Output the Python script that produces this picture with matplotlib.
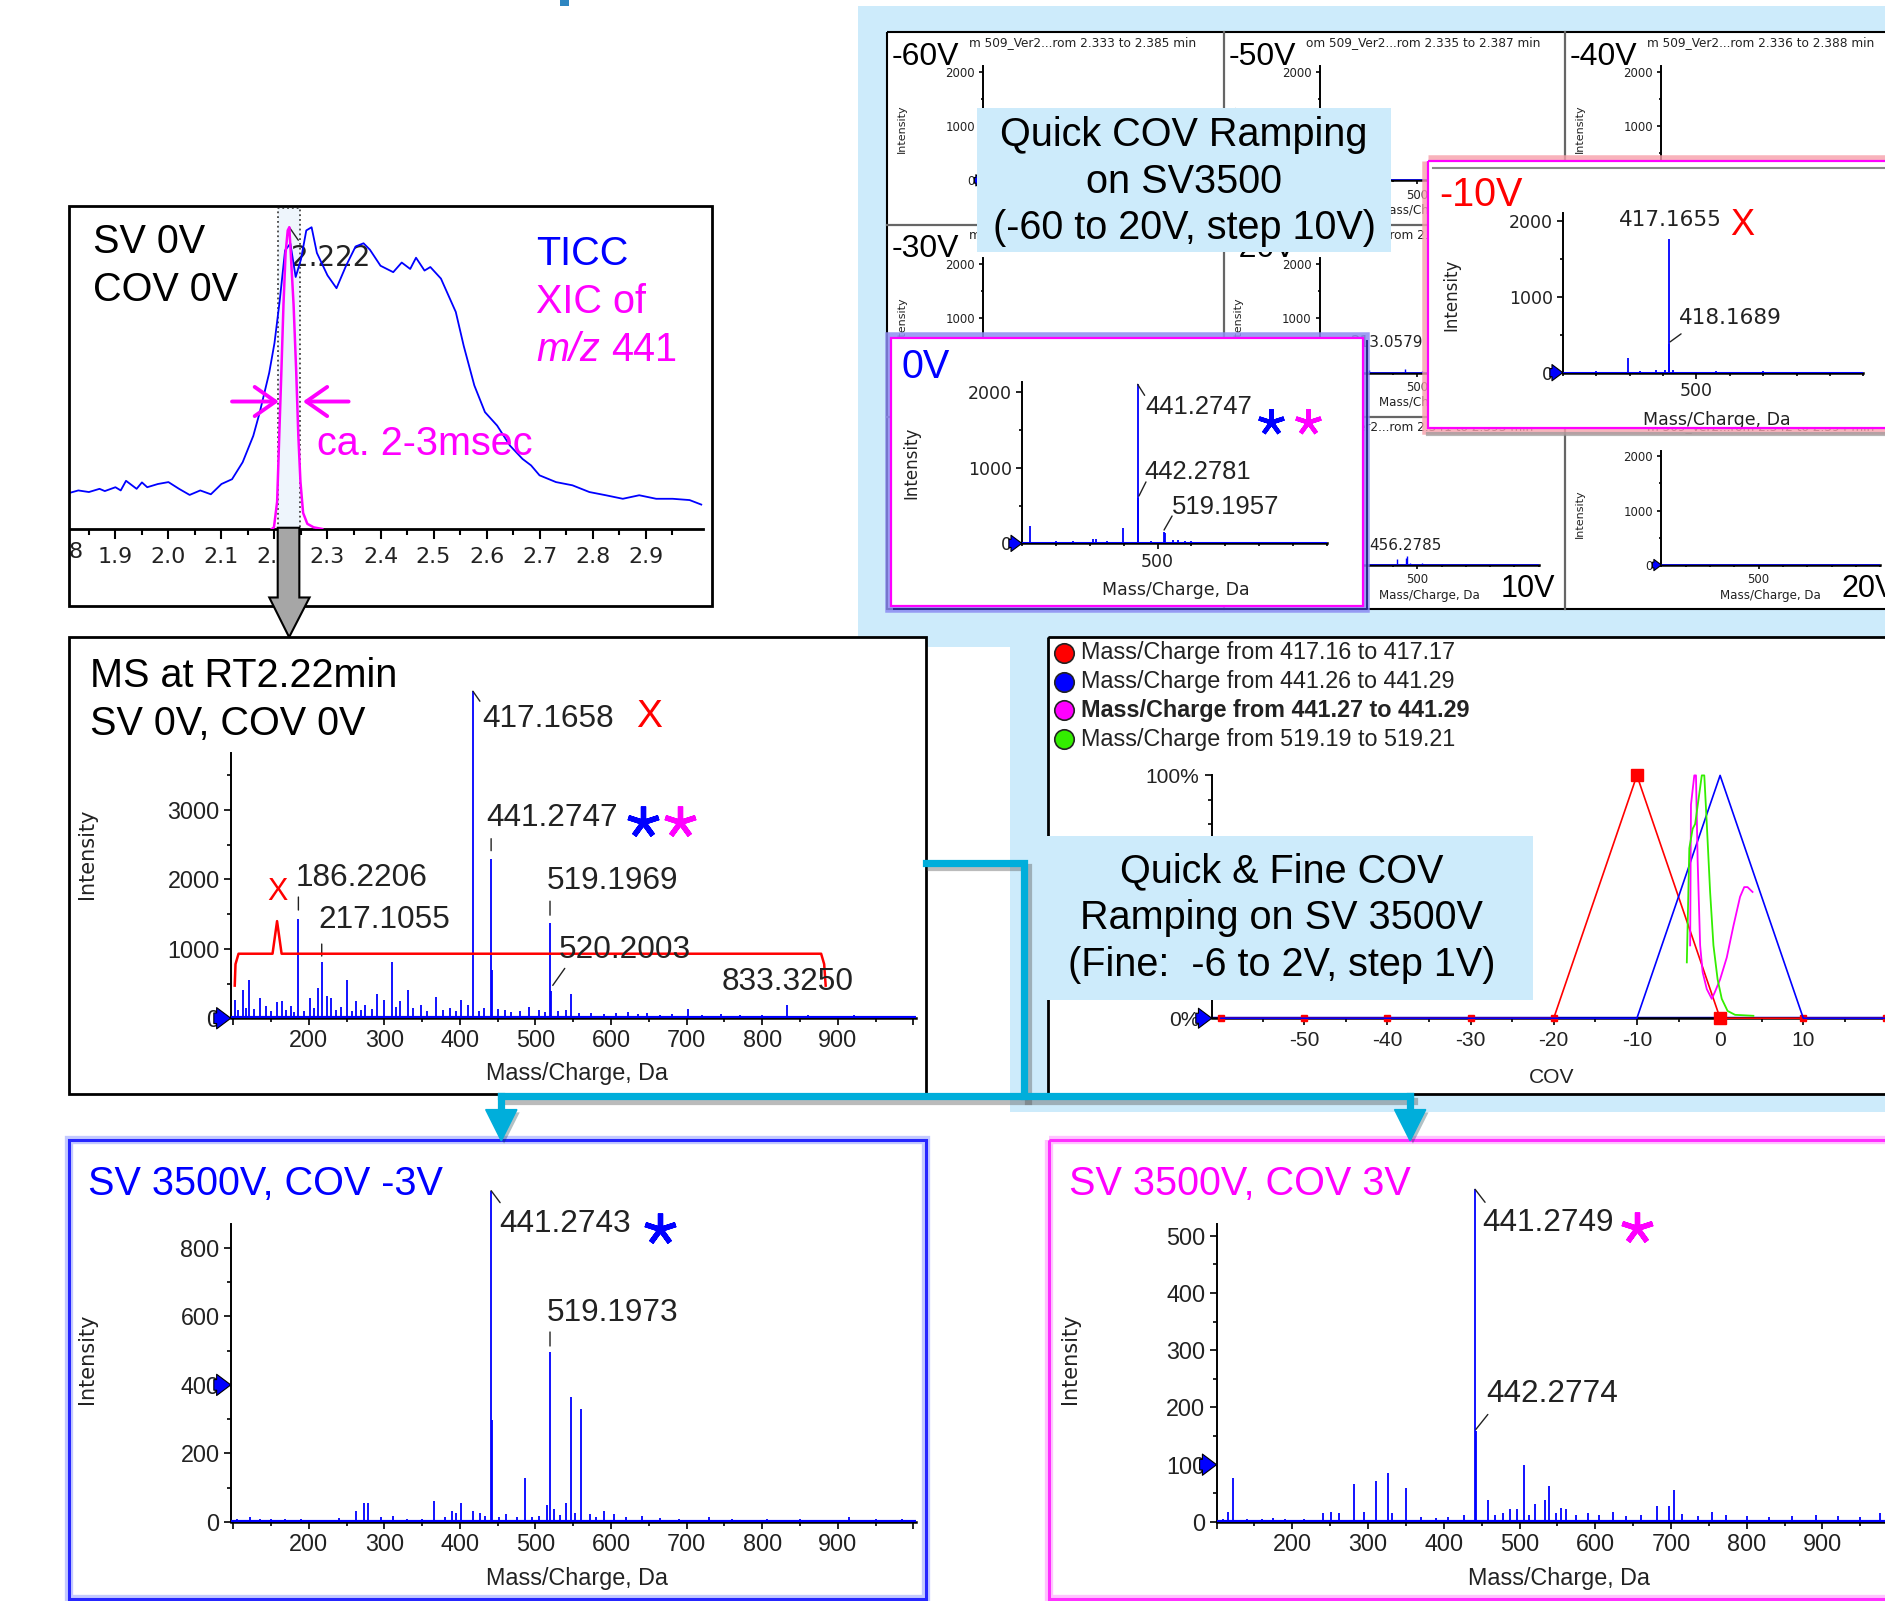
import numpy as np
import matplotlib.pyplot as plt
from matplotlib import font_manager
from matplotlib.patches import Rectangle, Polygon
from matplotlib.transforms import Affine2D, offset_copy
import matplotlib.patheffects as pe

plt.rcParams['axes.unicode_minus'] = False

# ---- values ----
# TIC and XIC of m/z 441, SV 0V / COV 0V (retention time in min, relative height)
tic_rt = [1.815, 1.83, 1.85, 1.87, 1.88, 1.90, 1.91, 1.92, 1.94, 1.95,
          1.96, 1.98, 2.00, 2.02, 2.04, 2.06, 2.08, 2.10, 2.12, 2.14,
          2.16, 2.172, 2.19, 2.20, 2.21, 2.22, 2.23, 2.24, 2.25, 2.26,
          2.27, 2.28, 2.30, 2.317, 2.335, 2.353, 2.368, 2.38, 2.40, 2.424,
          2.44, 2.456, 2.467, 2.483, 2.494, 2.514, 2.542, 2.557, 2.577, 2.597,
          2.62, 2.644, 2.668, 2.684, 2.70, 2.731, 2.762, 2.794, 2.825, 2.857,
          2.888, 2.92, 2.951, 2.983, 3.005]
tic_int = [11.3, 12.0, 11.5, 12.5, 11.8, 13.0, 12.0, 15.0, 12.5, 14.5,
           13.0, 14.0, 14.6, 12.5, 10.6, 12.0, 10.8, 14.0, 15.5, 20.8,
           29.0, 36.2, 48.6, 57.9, 71.3, 86.8, 88.9, 78.5, 84.0, 93.0,
           94.0, 86.0, 79.0, 75.0, 82.0, 88.0, 89.0, 87.0, 82.0, 80.0,
           83.0, 81.0, 84.5, 80.5, 81.6, 78.0, 67.6, 57.0, 44.7, 36.4,
           32.2, 26.0, 21.8, 19.8, 16.7, 14.6, 13.6, 11.5, 10.5, 9.4,
           10.5, 9.4, 9.4, 9.0, 7.6]
xic_rt = [2.195, 2.199, 2.205, 2.209, 2.213, 2.217, 2.221, 2.225, 2.228, 2.232,
          2.236, 2.241, 2.245, 2.249, 2.254, 2.262, 2.274, 2.29]
xic_int = [0, 0.5, 8.5, 29, 49, 70, 86, 93, 94, 82,
           70, 49, 29, 14.7, 5, 1.6, 0.5, 0]
tic_ticks = [1.9, 2.0, 2.1, 2.2, 2.3, 2.4, 2.5, 2.6, 2.7, 2.8, 2.9]

# MS at RT 2.22 min, SV 0V, COV 0V
ms0_mz = [102, 106, 113, 117, 121, 128, 136, 144, 150, 158,
          165, 170, 176, 181, 186.22, 193, 202, 207, 212, 217.1,
          224, 230, 236, 242, 251, 257, 263, 269, 275, 283,
          290, 300, 310, 315, 321, 331, 338, 348, 356, 368,
          378, 387, 395, 402, 411, 417.17, 425, 432, 441.27, 442.28,
          450, 459, 468, 480, 491, 504, 512, 519.2, 520.2, 530,
          541, 547, 558, 574, 590, 606, 622, 635, 648, 665,
          680, 701.5, 720, 745, 770, 800, 833.3, 860, 890, 922,
          950, 980]
ms0_int = [266, 120, 411, 150, 556, 130, 290, 170, 110, 240,
           242, 120, 170, 90, 1430, 110, 290, 150, 435, 810,
           315, 290, 120, 160, 556, 110, 242, 120, 194, 130,
           348, 266, 808, 160, 242, 411, 150, 194, 110, 300,
           120, 145, 110, 266, 194, 4714, 110, 150, 2300, 700,
           130, 120, 90, 100, 155, 120, 90, 1370, 387, 110,
           120, 348, 80, 73, 60, 70, 97, 60, 73, 50,
           60, 130, 50, 60, 45, 40, 184, 40, 35, 48,
           35, 30]
ms0_labels = [(417.17, '417.1658'), (441.27, '441.2747'), (186.22, '186.2206'),
              (217.1, '217.1055'), (519.2, '519.1969'), (520.2, '520.2003'),
              (833.3, '833.3250')]

# SV 3500V, COV -3V
msm3_mz = [105, 122, 135, 150, 168, 190, 215, 240, 263, 273,
           278.5, 296, 311, 330, 350, 366, 380, 389, 395, 401.5,
           417, 427, 433, 441.27, 442.3, 452, 461, 475, 486, 496,
           504, 515, 519.2, 524, 533, 541, 547, 552, 560, 572.6,
           580, 591, 604, 620, 641, 665, 690, 730, 760, 807,
           850, 880, 915, 950, 985]
msm3_int = [10, 13, 8, 9, 10, 8, 7, 12, 32, 55,
            55, 13, 17, 8, 10, 61, 15, 32, 27, 54,
            32, 27, 18, 967, 297, 15, 22, 14, 128, 15,
            17, 49, 496, 37, 20, 54, 365, 27, 331, 22,
            14, 32, 22, 15, 17, 12, 10, 13, 8, 10,
            8, 7, 13, 9, 8]

# SV 3500V, COV 3V
msp3_mz = [108, 115.7, 121.4, 140, 160, 175, 190, 215, 240.7, 251,
           262, 282, 295, 310.7, 326, 332, 350, 370, 390, 405,
           427, 441.27, 442.28, 459, 468, 478, 487, 496, 505.7, 512,
           521, 533.6, 538.6, 548, 555, 562, 575, 590, 605, 624,
           640, 660, 682, 698, 703.6, 715, 735, 753.6, 773, 800,
           830, 860, 891, 920, 950, 976]
msp3_int = [6, 18, 76, 6, 5, 7, 6, 5, 15, 18,
            15, 66, 18, 72, 86, 15, 59, 8, 7, 9,
            12, 581, 158, 38, 12, 15, 22, 22, 100, 12,
            31, 38, 62, 16, 25, 22, 12, 15, 12, 18,
            10, 12, 28, 28, 56, 14, 10, 18, 13, 10,
            9, 11, 13, 10, 9, 15]

# quick COV ramp cells (-60 .. 20 V)
ramp_volts = ['-60V', '-50V', '-40V', '-30V', '-20V', '-10V', '0V', '10V', '20V']
ramp_titles = ['m 509_Ver2...rom 2.333 to 2.385 min', 'om 509_Ver2...rom 2.335 to 2.387 min',
               'm 509_Ver2...rom 2.336 to 2.388 min', 'm 509_Ver2...rom 2.337 to 2.389 min',
               'm 509_Ver2...rom 2.338 to 2.390 min', 'm 509_Ver2...rom 2.339 to 2.391 min',
               'm 509_Ver2...rom 2.340 to 2.392 min', 'm 509_Ver2...rom 2.341 to 2.393 min',
               'm 509_Ver2...rom 2.342 to 2.394 min']
m20_mz, m20_int = [213, 300, 450, 520], [150, 40, 60, 30]
m10_mz = [130, 160, 200, 250, 294, 330, 380, 405, 417.17, 418.17, 430, 480, 560, 600, 650, 700, 800, 900, 950]
m10_int = [15, 10, 20, 12, 190, 25, 30, 40, 1760, 380, 35, 15, 20, 12, 15, 20, 10, 15, 12]
c0_mz = [124, 150, 200, 250, 300, 309, 319, 350, 397, 441.27, 442.28,
         480, 519.2, 523, 545, 560, 580, 600, 650, 700, 800, 900]
c0_int = [233, 20, 25, 30, 20, 60, 60, 25, 197, 2100, 600,
          30, 150, 140, 40, 45, 35, 30, 20, 15, 10, 10]
p10_mz, p10_int = [417, 452, 456.28, 470, 520, 600, 700, 900], [110, 130, 160, 40, 30, 20, 15, 20]
p20_mz, p20_int = [490, 800, 940], [15, 12, 12]
cell_mz = [[], [], [], [], m20_mz, m10_mz, c0_mz, p10_mz, p20_mz]
cell_int = [[], [], [], [], m20_int, m10_int, c0_int, p10_int, p20_int]

# COV ramp (% of max)
cov_coarse = [-60, -50, -40, -30, -20, -10, 0, 10, 20]
cov_417 = [0, 0, 0, 0, 0, 100, 0, 0, 0]
cov_441 = [0, 0, 0, 0, 0, 0, 100, 0, 0]
cov_fine_441 = [-3.6, -3.5, -3.1, -2.9, -2.7, -2.4, -2.1, -1.6, -1.0, -0.6, 0.0, 0.8, 1.6, 2.4, 2.9, 3.3, 3.9]
int_fine_441 = [30, 88, 100, 100, 65, 30, 19, 12, 8, 11, 16, 25, 38, 50, 54, 54, 52]
cov_fine_519 = [-4.0, -3.7, -3.3, -3.0, -2.6, -2.2, -1.9, -1.6, -1.2, -0.8, -0.3, 0.2, 0.9, 1.8, 4.0]
int_fine_519 = [23, 70, 78, 80, 90, 100, 100, 80, 52, 30, 16, 8, 3, 1.4, 1]
legend_text = ['Mass/Charge from 417.16 to 417.17', 'Mass/Charge from 441.26 to 441.29',
               'Mass/Charge from 441.27 to 441.29', 'Mass/Charge from 519.19 to 519.21']

# ---- fonts and colours ----
have = {f.name for f in font_manager.fontManager.ttflist}
FN = 'Liberation Sans Narrow' if 'Liberation Sans Narrow' in have else 'Liberation Sans'
NK = 1.0 if FN == 'Liberation Sans Narrow' else 0.84
FT = 'Liberation Sans'
FD = 'DejaVu Sans'
BLUE, MAG, RED, GRN = '#0000FF', '#FF00FF', '#FF0000', '#33EE00'
LBLUE, CYAN, INK = '#CDEBFB', '#00AEDB', '#222222'

fig = plt.figure(figsize=(18.85, 16.01), dpi=100)
W = 1568.0
H = 1601 * 1568 / 1885.0
PX = Affine2D().scale(1 / W, -1 / H).translate(0, 1) + fig.transFigure


def layer(z):
    a = fig.add_axes([0, 0, 1, 1], zorder=z)
    a.set_xlim(0, W)
    a.set_ylim(H, 0)
    a.axis('off')
    return a


def box_ax(l, t, r, b, z):
    a = fig.add_axes([l / W, 1 - b / H, (r - l) / W, (b - t) / H], zorder=z)
    a.patch.set_visible(False)
    return a


def rect(a, l, t, r, b, **kw):
    a.add_patch(Rectangle((l, t), r - l, b - t, **kw))


def txt(a, x, y, s, fs, fam=FT, color='black', ha='left', va='center', **kw):
    return a.text(x, y, s, transform=PX, fontsize=fs, family=fam, color=color, ha=ha, va=va, **kw)


def spectrum(a, mz, inten, xlim, ylim, spine_top, yticks, yminor, xticks, xlabels, xminor,
             fam, fs, lw=1.3, base=3.0, tl=5):
    a.vlines(mz, 0, inten, color=BLUE, lw=lw, zorder=3)
    a.axhline(0, color=BLUE, lw=base, zorder=3)
    a.set_xlim(*xlim)
    a.set_ylim(*ylim)
    a.spines[['top', 'right']].set_visible(False)
    a.spines['left'].set_bounds(0, spine_top)
    a.spines['left'].set_linewidth(1.4)
    a.spines['bottom'].set_linewidth(1.8)
    a.set_yticks(yticks)
    a.set_yticklabels([str(v) for v in yticks])
    a.set_yticks(yminor, minor=True)
    a.set_xticks(xticks)
    a.set_xticklabels(xlabels)
    a.set_xticks(xminor, minor=True)
    a.tick_params(which='both', direction='out', width=1.2, labelsize=fs,
                  labelfontfamily=fam, labelcolor=INK, pad=3)
    a.tick_params(which='major', length=tl)
    a.tick_params(which='minor', length=tl * 0.6)


def thr_arrow(a, level, ms):
    a.annotate('', xy=(0, level), xycoords=a.get_yaxis_transform(), xytext=(-ms, 0),
               textcoords='offset pixels', annotation_clip=False,
               arrowprops=dict(arrowstyle='simple,head_width=0.9,head_length=0.6,tail_width=0.45',
                               mutation_scale=ms, fc=BLUE, ec='black', lw=0.8, shrinkA=0, shrinkB=0))


def plabel(a, x, y, s, dx, dy, fs, fam=FN, color=INK, lead=None, z=6, ha='left'):
    a.annotate(s, (x, y), xytext=(dx, dy), textcoords='offset pixels', ha=ha, va='center',
               fontsize=fs, family=fam, color=color, annotation_clip=False, zorder=z)
    if lead is not None:
        x0, y0, x1, y1 = lead
        a.annotate('', (x, y), xycoords=offset_copy(a.transData, fig=fig, x=x0, y=y0, units='dots'),
                   xytext=(x1 - x0, y1 - y0), textcoords='offset pixels', annotation_clip=False,
                   arrowprops=dict(arrowstyle='-', lw=1.0, color=INK, shrinkA=0, shrinkB=0))


def star(a, x, y, dx, dy, color, ms=24):
    a.plot([x], [y], transform=offset_copy(a.transData, fig=fig, x=dx, y=dy, units='dots'),
           marker=(5, 2, 0), ms=ms, mew=ms / 6.0, color=color, clip_on=False, zorder=6)


def top_of(mz, inten, m):
    return dict(zip(mz, inten))[m]


# ---- background: light blue areas, white panels ----
bg = layer(0)
rect(bg, 714, 5, 1580, 538, fc=LBLUE, ec='none')
rect(bg, 840, 538, 1580, 925, fc=LBLUE, ec='none')
rect(bg, 466, 0, 473, 5, fc='#2E86C1', ec='none')
for l, t, r, b in [(57, 171, 592, 504), (57, 530, 770, 910), (872, 530, 1580, 910),
                   (57, 948, 770, 1330), (873, 948, 1580, 1330), (738, 27, 1580, 507)]:
    rect(bg, l, t, r, b, fc='white', ec='none')
for x in [1018, 1302]:
    bg.plot([x, x], [27, 507], color='#666666', lw=1.6)
for y in [187, 347]:
    bg.plot([738, 1580], [y, y], color='#666666', lw=1.6)
rect(bg, 738, 27, 1580, 507, fc='none', ec='black', lw=1.5)

# ---- quick COV ramp grid ----
grid_l = [738, 1018, 1302]
grid_t = [27, 187, 347]
for i in range(9):
    r, c = divmod(i, 3)
    L, T = grid_l[c], grid_t[r]
    a = box_ax(L + 80, T + 28, L + 262, T + 123, 1)
    spectrum(a, cell_mz[i], cell_int[i], (100, 1000), (0, 2100), 2100, [0, 1000, 2000], [500, 1500],
             [500], ['500'], range(100, 1001, 100), FD, 8.5, lw=1.0, base=1.8, tl=3)
    thr_arrow(a, 0, 9)
    txt(a, L + 68, T + 8, ramp_titles[i], 8.7, fam=FD, color=INK)
    txt(a, L + 12, T + 80, 'Intensity', 8, fam=FD, color=INK, ha='center', rotation=90)
    txt(a, L + 171, T + 148, 'Mass/Charge, Da', 8.6, fam=FD, color=INK, ha='center')
    if r < 2:
        txt(a, L + 4, T + 20, ramp_volts[i], 23)
    else:
        txt(a, L + 230, T + 143, ramp_volts[i], 22)
    if ramp_volts[i] == '-20V':
        plabel(a, 213, top_of(m20_mz, m20_int, 213), '213.0579', 3, 22, 11, fam=FD)
    if ramp_volts[i] == '10V':
        plabel(a, 456.28, top_of(p10_mz, p10_int, 456.28), '456.2785', -37, 11, 11, fam=FD)

# ---- overlays on the grid ----
la = layer(2)
rect(la, 813, 90, 1157, 210, fc=LBLUE, ec='none')
txt(la, 985, 151, 'Quick COV Ramping\non SV3500\n(-60 to 20V, step 10V)', 28.5,
    ha='center', multialignment='center', linespacing=1.28)
rect(la, 1188, 134, 1600, 356, fc='none', ec='#F7A0AA', lw=9, alpha=0.8)
rect(la, 1188, 134, 1600, 356, fc='white', ec='none')
rect(la, 741, 281, 1134, 504, fc='none', ec='#8C8CF2', lw=9, alpha=0.85)
rect(la, 741, 281, 1134, 504, fc='white', ec='none')

# -10V enlarged cell
a10 = box_ax(1300, 177, 1550, 310, 3)
spectrum(a10, m10_mz, m10_int, (100, 1000), (0, 2111), 2111, [0, 1000, 2000], [500, 1500],
         [500], ['500'], range(100, 1001, 100), FD, 12.5, lw=1.3, base=2.2, tl=4)
thr_arrow(a10, 0, 13)
txt(a10, 1197, 162, '-10V', 28.5, color=RED)
txt(a10, 1207, 245, 'Intensity', 12, fam=FD, color=INK, ha='center', rotation=90)
txt(a10, 1428, 349, 'Mass/Charge, Da', 12.5, fam=FD, color=INK, ha='center')
plabel(a10, 417.17, top_of(m10_mz, m10_int, 417.17), '417.1655', -50, 19, 15.5, fam=FD)
plabel(a10, 417.17, top_of(m10_mz, m10_int, 417.17), 'X', 74, 14, 26, fam=FT, color=RED, ha='center')
plabel(a10, 418.17, top_of(m10_mz, m10_int, 418.17), '418.1689', 10, 26, 15.5, fam=FD, lead=(1, 2, 12, 10))

# 0V enlarged cell
a0 = box_ax(850, 318, 1104, 452, 3)
spectrum(a0, c0_mz, c0_int, (100, 1000), (0, 2127), 2127, [0, 1000, 2000], [500, 1500],
         [500], ['500'], range(100, 1001, 100), FD, 12.5, lw=1.3, base=2.2, tl=4)
thr_arrow(a0, 0, 13)
txt(a0, 750, 305, '0V', 28.5, color=BLUE)
txt(a0, 758, 385, 'Intensity', 12, fam=FD, color=INK, ha='center', rotation=90)
txt(a0, 978, 491, 'Mass/Charge, Da', 12.5, fam=FD, color=INK, ha='center')
h441 = top_of(c0_mz, c0_int, 441.27)
plabel(a0, 441.27, h441, '441.2747', 8, -23, 22 * NK, lead=(0, 0, 7, -11))
star(a0, 441.27, h441, 133, -38, BLUE, 19)
star(a0, 441.27, h441, 170, -38, MAG, 19)
plabel(a0, 442.28, top_of(c0_mz, c0_int, 442.28), '442.2781', 6, 26, 22 * NK, lead=(1, 2, 8, 16))
plabel(a0, 519.2, top_of(c0_mz, c0_int, 519.2), '519.1957', 8, 25, 22 * NK, lead=(0, 2, 8, 16))

lb = layer(4)
rect(lb, 1188, 134, 1600, 356, fc='none', ec=MAG, lw=1.6)
lb.plot([1192, 1580], [140, 140], color='#888888', lw=1.5)
lb.plot([1188, 1580], [361, 361], color='#999999', lw=3, alpha=0.7)
rect(lb, 741, 281, 1134, 504, fc='none', ec=MAG, lw=1.6)
lb.plot([1137, 1137, 744], [284, 507, 507], color='#2A2A8A', lw=1.4)

# ---- TIC panel ----
ax = box_ax(58, 173, 585, 440, 5)
ax.axvspan(2.206, 2.249, fc='#EEF5FC', ec='#444444', ls=':', lw=1.3, zorder=1)
ax.plot(tic_rt, tic_int, color=BLUE, lw=1.3, zorder=3)
ax.plot(xic_rt, xic_int, color=MAG, lw=1.8, zorder=4)
ax.set_xlim(1.8138, 3.0088)
ax.set_ylim(0, 100)
ax.spines[['left', 'top', 'right']].set_visible(False)
ax.spines['bottom'].set_linewidth(2)
ax.set_yticks([])
ax.set_xticks(tic_ticks)
ax.set_xticklabels([f'{t:.1f}' for t in tic_ticks])
ax.set_xticks(np.arange(1.85, 3.0, 0.1), minor=True)
ax.tick_params(which='both', direction='out', width=1.5, labelsize=16, labelfontfamily=FD,
               labelcolor=INK, pad=6)
ax.tick_params(which='major', length=7)
ax.tick_params(which='minor', length=4)
txt(ax, 63, 459, '8', 16, fam=FD, color=INK, ha='center')
k = int(np.argmax(xic_int))
plabel(ax, xic_rt[k], xic_int[k], '2.222', 2, -31, 20, fam=FD, lead=(0, 0, 9, -13), z=2)

# ---- MS at RT 2.22 ----
ax = box_ax(192, 565, 762, 847, 5)
spectrum(ax, ms0_mz, ms0_int, (96.8, 1003.6), (0, 4887), 3820, [0, 1000, 2000, 3000],
         [500, 1500, 2500, 3500], range(100, 1001, 100),
         [''] + [str(v) for v in range(200, 1000, 100)] + [''], range(150, 1000, 100), FN, 20 * NK)
thr_arrow(ax, 0, 17)
txt(ax, 72, 710, 'Intensity', 15, fam=FD, color=INK, ha='center', rotation=90)
txt(ax, 480, 893, 'Mass/Charge, Da', 20 * NK, fam=FN, color=INK, ha='center')
pk = dict(zip(ms0_mz, ms0_int))
offs = {417.17: (9, -28, (0, 0, 7, -10)), 441.27: (-5, 41, (0, 8, 0, 20)),
        186.22: (-3, 41, (0, 9, 0, 22)), 217.1: (-3, 42, (0, 6, 0, 18)),
        519.2: (-3, 42, (0, 8, 0, 22)), 520.2: (8, 41, (2, 6, 14, 23)), 833.3: (-66, 23, None)}
for m, s in ms0_labels:
    dx, dy, ld = offs[m]
    plabel(ax, m, pk[m], s, dx, dy, 27 * NK, lead=ld)
plabel(ax, 417.17, pk[417.17], 'X', 176, -26, 28, fam=FT, color=RED, ha='center')
plabel(ax, 186.22, pk[186.22], 'X', -21, 27, 22, fam=FT, color=RED, ha='center')
star(ax, 441.27, pk[441.27], 152, 37, BLUE, 23)
star(ax, 441.27, pk[441.27], 189, 37, MAG, 23)
ax.plot([102, 103, 107, 152, 158, 164, 878, 882, 884], [470, 780, 930, 930, 1400, 930, 930, 780, 470],
        color=RED, lw=1.8, clip_on=False, zorder=5)

# ---- SV 3500V, COV -3V ----
ax = box_ax(192, 985, 762, 1266, 5)
spectrum(ax, msm3_mz, msm3_int, (96.8, 1003.6), (0, 986), 870, [0, 200, 400, 600, 800],
         [100, 300, 500, 700], range(100, 1001, 100),
         [''] + [str(v) for v in range(200, 1000, 100)] + [''], range(150, 1000, 100), FN, 20 * NK)
thr_arrow(ax, 400, 17)
txt(ax, 72, 1130, 'Intensity', 15, fam=FD, color=INK, ha='center', rotation=90)
txt(ax, 480, 1313, 'Mass/Charge, Da', 20 * NK, fam=FN, color=INK, ha='center')
pk = dict(zip(msm3_mz, msm3_int))
plabel(ax, 441.27, pk[441.27], '441.2743', 8, -33, 27 * NK, lead=(0, 0, 9, -12))
star(ax, 441.27, pk[441.27], 169, -38, BLUE, 23)
plabel(ax, 519.2, pk[519.2], '519.1973', -3, 39, 27 * NK, lead=(0, 6, 0, 20))

# ---- SV 3500V, COV 3V ----
ax = box_ax(1012, 985, 1579, 1266, 5)
spectrum(ax, msp3_mz, msp3_int, (100, 1000), (0, 590), 521, [0, 100, 200, 300, 400, 500],
         [50, 150, 250, 350, 450], range(100, 1001, 100),
         [''] + [str(v) for v in range(200, 1000, 100)] + [''], range(150, 1000, 100), FN, 20 * NK)
thr_arrow(ax, 100, 17)
txt(ax, 890, 1130, 'Intensity', 15, fam=FD, color=INK, ha='center', rotation=90)
txt(ax, 1297, 1313, 'Mass/Charge, Da', 20 * NK, fam=FN, color=INK, ha='center')
pk = dict(zip(msp3_mz, msp3_int))
plabel(ax, 441.27, pk[441.27], '441.2749', 7, -34, 27 * NK, lead=(0, 0, 10, -13))
star(ax, 441.27, pk[441.27], 162, -39, MAG, 23)
plabel(ax, 442.28, pk[442.28], '442.2774', 10, 37, 27 * NK, lead=(0, 2, 12, 17))

# ---- COV ramp chart ----
ax = box_ax(1008, 645, 1581, 847, 5)
ax.plot(cov_coarse, cov_417, color=RED, lw=1.2, marker='s', ms=5, zorder=3, clip_on=False)
ax.plot(cov_coarse[5:7], cov_417[5:7], ls='none', color=RED, marker='s', ms=8, zorder=3, clip_on=False)
ax.plot(cov_coarse, cov_441, color=BLUE, lw=1.2, zorder=4, clip_on=False)
ax.plot(cov_fine_441, int_fine_441, color=MAG, lw=1.3, zorder=5, clip_on=False)
ax.plot(cov_fine_519, int_fine_519, color=GRN, lw=1.3, zorder=5, clip_on=False)
ax.axhline(0, color=BLUE, lw=2.5, zorder=2)
ax.set_xlim(-61.1, 21.7)
ax.set_ylim(0, 100)
ax.spines[['top', 'right']].set_visible(False)
ax.spines['left'].set_linewidth(1.4)
ax.spines['bottom'].set_linewidth(1.8)
ax.set_xticks(range(-50, 11, 10))
ax.set_xticks(range(-55, 21, 10), minor=True)
ax.set_yticks([0, 100])
ax.set_yticklabels(['0%', '100%'])
ax.set_yticks(range(10, 100, 10), minor=True)
ax.tick_params(which='both', direction='out', width=1.2, labelsize=18 * NK, labelfontfamily=FN,
               labelcolor=INK, pad=4)
ax.tick_params(which='major', length=5)
ax.tick_params(which='minor', length=3)
thr_arrow(ax, 0, 16)
txt(ax, 1291, 896, 'COV', 18 * NK, fam=FN, color=INK, ha='center')

# ---- top layer: frames, titles, connectors ----
ov = layer(6)
for l, t, r, b in [(57, 171, 592, 504), (57, 530, 770, 910), (872, 530, 1600, 910)]:
    rect(ov, l, t, r, b, fc='none', ec='black', lw=2)
rect(ov, 57, 948, 770, 1330, fc='none', ec='#B4BCFF', lw=6, alpha=0.8)
rect(ov, 57, 948, 770, 1330, fc='none', ec='#2626FF', lw=2.2)
rect(ov, 873, 948, 1600, 1330, fc='none', ec='#FFB4FF', lw=6, alpha=0.8)
rect(ov, 873, 948, 1600, 1330, fc='none', ec='#FF30FF', lw=2.2)

txt(ov, 77, 201, 'SV 0V', 28.5)
txt(ov, 77, 241, 'COV 0V', 28.5)
txt(ov, 446, 211, 'TICC', 28.5, color=BLUE)
txt(ov, 446, 251, 'XIC of', 28.5, color=MAG)
txt(ov, 446, 291, 'm/z', 28.5, color=MAG, style='italic')
txt(ov, 508, 291, '441', 28.5, color=MAG)
txt(ov, 264, 369, 'ca. 2-3msec', 28.5, color=MAG)
ov.annotate('', xy=(232, 334), xytext=(193, 334),
            arrowprops=dict(arrowstyle='->,head_length=0.5,head_width=0.35', color=MAG, lw=2.8,
                            mutation_scale=30, shrinkA=0, shrinkB=0))
ov.annotate('', xy=(252, 334), xytext=(290, 334),
            arrowprops=dict(arrowstyle='->,head_length=0.5,head_width=0.35', color=MAG, lw=2.8,
                            mutation_scale=30, shrinkA=0, shrinkB=0))
ov.add_patch(Polygon([(231, 439), (249, 439), (249, 497), (257.5, 497), (240.5, 530), (224, 497), (231, 497)],
                     closed=True, fc='#A6A6A6', ec='black', lw=1.5))

txt(ov, 75, 562, 'MS at RT2.22min', 28.5)
txt(ov, 75, 602, 'SV 0V, COV 0V', 28.5)
txt(ov, 73, 985, 'SV 3500V, COV -3V', 28.5, color=BLUE)
txt(ov, 889, 985, 'SV 3500V, COV 3V', 28.5, color=MAG)

shadow = [pe.SimpleLineShadow(offset=(3, -3), shadow_color='#555555', alpha=0.4), pe.Normal()]
ov.plot([770, 852, 852], [718, 718, 912], color=CYAN, lw=5.2, solid_joinstyle='miter', path_effects=shadow)
ov.plot([417, 1173], [912, 912], color=CYAN, lw=5.2, path_effects=shadow)
for x in [417, 1173]:
    ov.plot([x, x], [912, 926], color=CYAN, lw=5.2)
    ov.add_patch(Polygon([(x - 13, 923), (x + 13, 923), (x, 949)], closed=True, fc=CYAN, ec=CYAN, lw=1,
                         path_effects=[pe.SimplePatchShadow(offset=(2, -2), alpha=0.3), pe.Normal()]))

rect(ov, 858, 695, 1275, 832, fc=LBLUE, ec='none')
txt(ov, 1066, 764, 'Quick & Fine COV\nRamping on SV 3500V\n(Fine:  -6 to 2V, step 1V)', 28.5,
    ha='center', multialignment='center', linespacing=1.3)

for i, (s, col) in enumerate(zip(legend_text, [RED, BLUE, MAG, GRN])):
    y = 543 + 24 * i
    ov.plot([885], [y], 'o', ms=14, mfc=col, mec=INK, mew=1.2)
    txt(ov, 899, y, s, 20 * NK, fam=FN, color=INK, weight='bold' if i == 2 else 'normal')

fig.savefig('out.png', dpi=100)
